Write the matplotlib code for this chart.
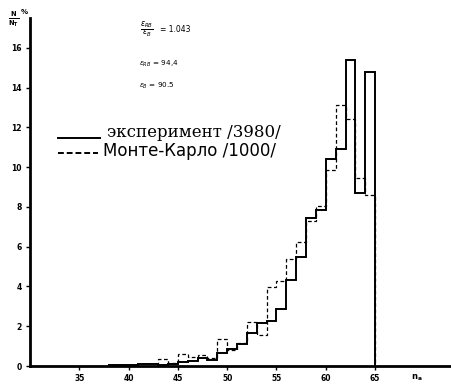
import numpy as np
import matplotlib
matplotlib.use('Agg')
import matplotlib.pyplot as plt

# bin edges (n_a), one unit wide
edges_exp = np.arange(38, 66)
edges_mc = np.arange(43, 66)

# N/N_T, % -- experiment /3980/, bins 38..64
exp_vals = [0.05, 0.05, 0.07, 0.1, 0.1, 0.05, 0.1, 0.2, 0.25, 0.4,
            0.3, 0.65, 0.85, 1.1, 1.66, 2.17, 2.28, 2.87, 4.33, 5.5,
            7.45, 7.85, 10.4, 10.9, 15.4, 8.7, 14.8]

# Monte-Carlo /1000/, bins 43..64
mc_vals = [0.35, 0.15, 0.6, 0.47, 0.55, 0.4, 1.36, 0.8, 1.15, 2.23,
           1.55, 3.97, 4.28, 5.4, 6.25, 7.3, 8.05, 9.86, 13.15, 12.4,
           9.47, 8.6]

xticks = [35, 40, 45, 50, 55, 60, 65]
yticks = [0, 2, 4, 6, 8, 10, 12, 14, 16]

fig = plt.figure(figsize=(4.51, 3.85), dpi=100)
ax = fig.add_axes([30 / 451, 1 - 366 / 385, 421 / 451, 348 / 385])

ax.stairs(exp_vals, edges_exp, baseline=0, color='black', lw=1.4)
ax.stairs(mc_vals, edges_mc, baseline=0, color='black', lw=0.9,
          linestyle=(0, (3, 2)))

ax.set_xlim(30, 72.7)
ax.set_ylim(0, 17.5)

for s in ['top', 'right']:
    ax.spines[s].set_visible(False)
ax.spines['left'].set_linewidth(2)
ax.spines['bottom'].set_linewidth(2)

ax.set_xticks(xticks)
ax.set_yticks(yticks)
ax.set_xticklabels([str(t) for t in xticks], fontsize=5.5, fontweight='bold')
ax.set_yticklabels([str(t) for t in yticks], fontsize=5.5, fontweight='bold')
ax.tick_params(axis='both', direction='out', length=3, width=1, pad=3)

# axis labels
fig.text(14 / 451, 1 - 19 / 385, r'$\frac{\mathbf{N}}{\mathbf{N_T}}$', fontsize=7,
         ha='center', va='center')
fig.text(24 / 451, 1 - 12 / 385, '%', fontsize=5, fontweight='bold',
         ha='center', va='center')
fig.text(417 / 451, 1 - 378 / 385, r'$\mathbf{n_a}$', fontsize=6,
         ha='center', va='center')

# efficiencies
fig.text(140 / 451, 1 - 29 / 385,
         r'$\frac{\varepsilon_{RB}}{\varepsilon_{B}}$', fontsize=8,
         ha='left', va='center')
fig.text(160 / 451, 1 - 29 / 385, '= 1.043', fontsize=5.5,
         ha='left', va='center')
fig.text(139 / 451, 1 - 64 / 385, r'$\varepsilon_{RB}$ = 94,4', fontsize=5.2,
         ha='left', va='center')
fig.text(139 / 451, 1 - 86 / 385, r'$\varepsilon_{B}$ = 90.5', fontsize=5.2,
         ha='left', va='center')

# legend drawn by hand to keep the layout of the original
ax.plot([32.8, 37.1], [11.47, 11.47], color='black', lw=1.4, clip_on=False)
ax.plot([32.8, 36.9], [10.7, 10.7], color='black', lw=1.4,
        linestyle=(0, (3, 1.5)), clip_on=False)
ax.text(37.85, 11.75, 'эксперимент /3980/', fontsize=12,
        family='DejaVu Serif', ha='left', va='center')
ax.text(37.45, 10.82, 'Монте-Карло /1000/', fontsize=12,
        family='DejaVu Sans', ha='left', va='center')

fig.savefig('out.png', dpi=100)
